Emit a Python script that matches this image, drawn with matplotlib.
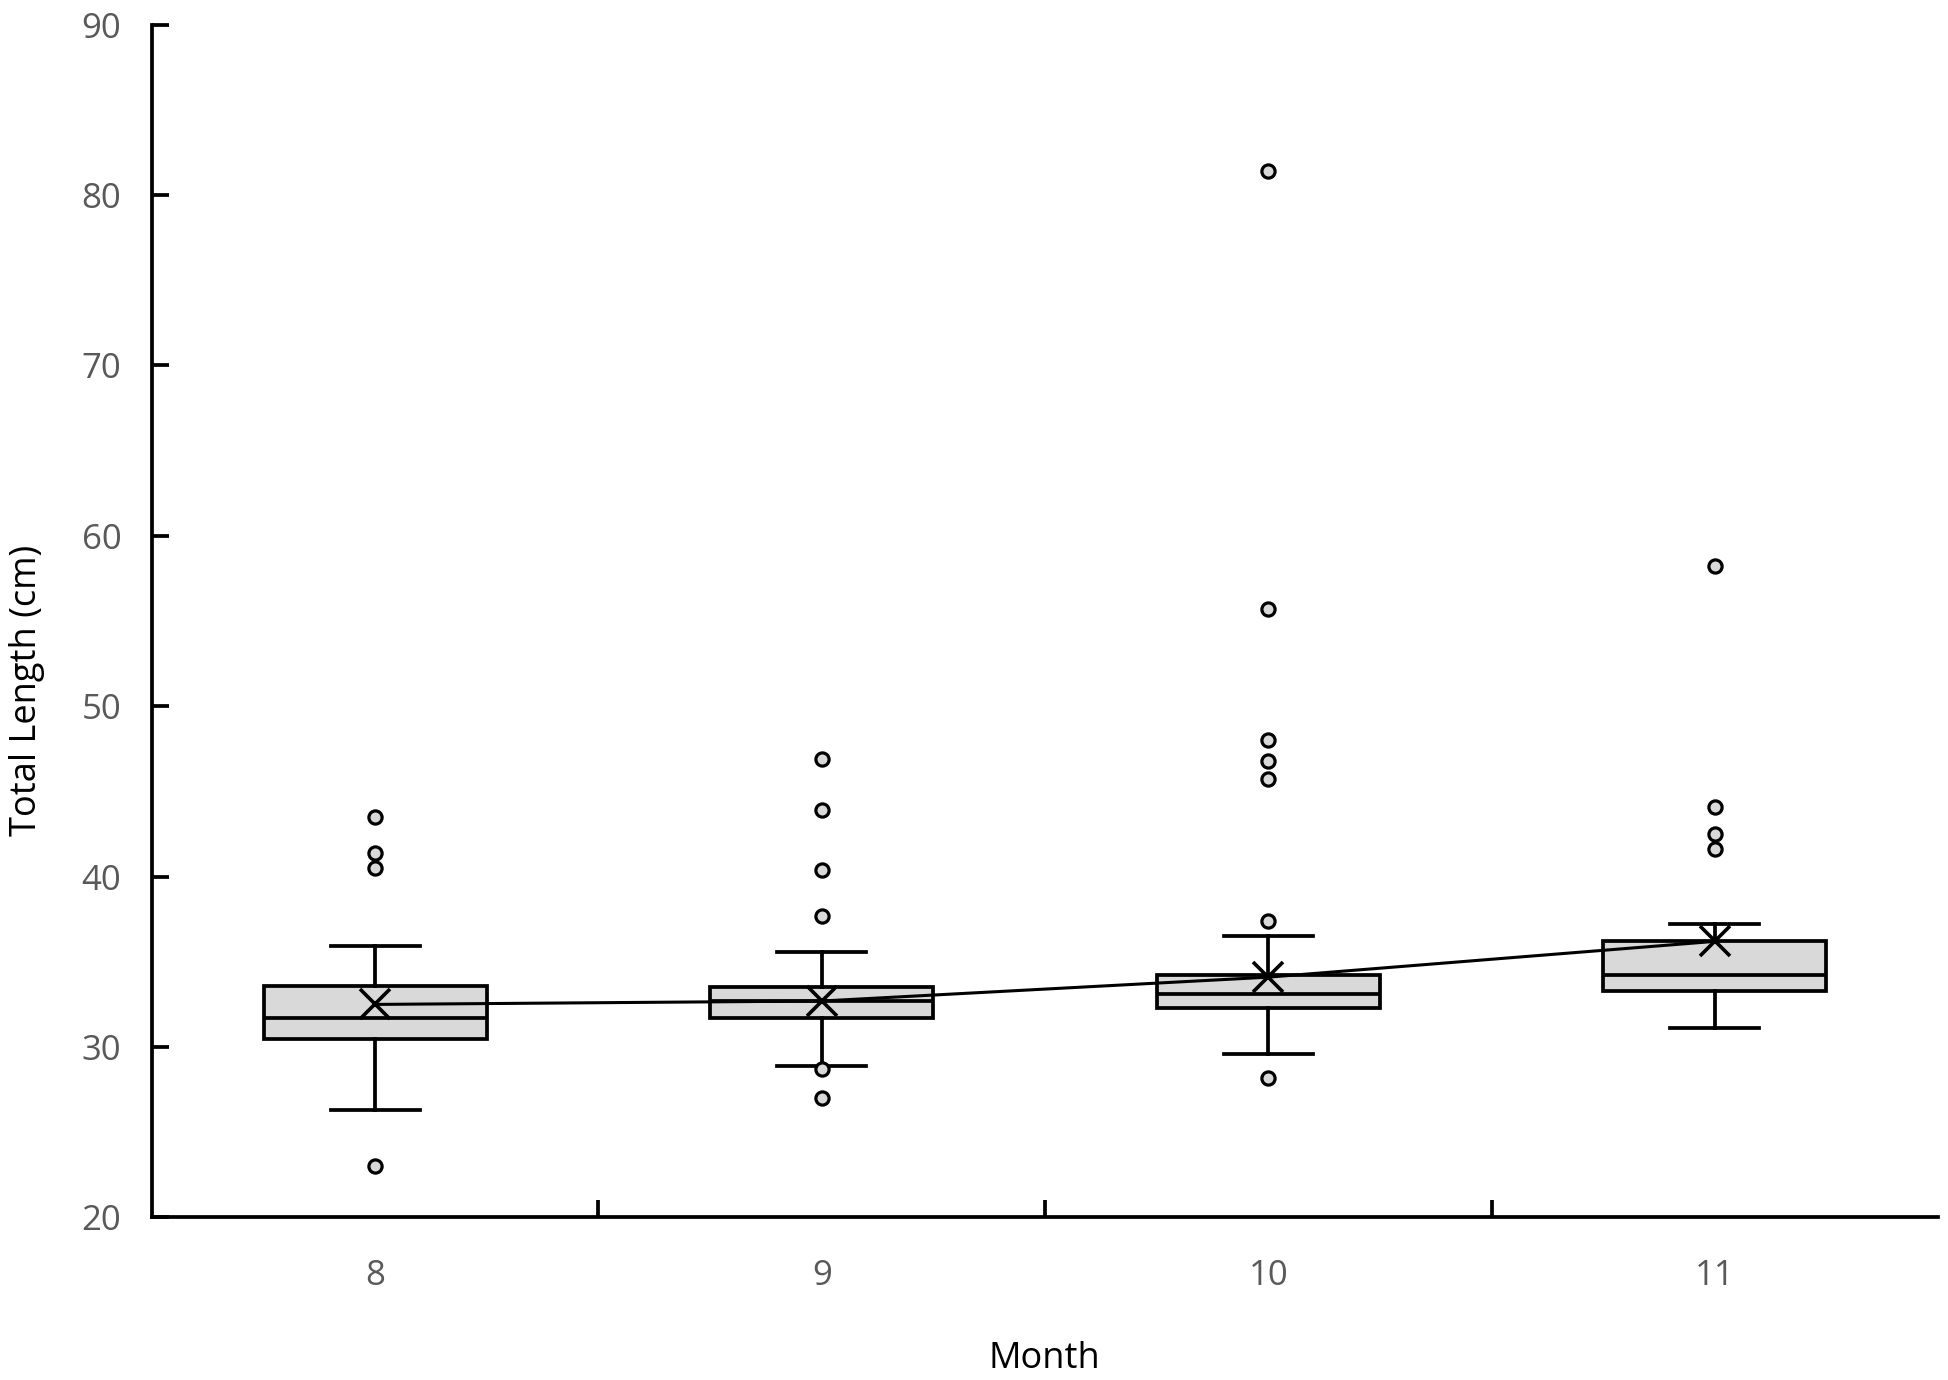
import matplotlib
matplotlib.use("Agg")
import matplotlib.pyplot as plt

plt.rcParams['font.family'] = ['Open Sans', 'DejaVu Sans']

# data
months = ['8', '9', '10', '11']
q1 = [30.5, 31.7, 32.3, 33.3]
median = [31.7, 32.7, 33.1, 34.2]
q3 = [33.6, 33.5, 34.2, 36.2]
whisker_low = [26.3, 28.9, 29.6, 31.1]
whisker_high = [35.9, 35.6, 36.5, 37.2]
means = [32.5, 32.7, 34.1, 36.2]
outliers = [
    [43.5, 41.4, 40.5, 23.0],
    [46.9, 43.9, 40.4, 37.7, 28.7, 27.0],
    [81.4, 55.7, 48.0, 46.8, 45.7, 37.4, 28.2],
    [58.2, 44.1, 42.5, 41.6],
]

stats = []
for i in range(len(months)):
    stats.append({
        'label': months[i],
        'q1': q1[i], 'med': median[i], 'q3': q3[i],
        'whislo': whisker_low[i], 'whishi': whisker_high[i],
        'mean': means[i], 'fliers': outliers[i],
    })

fig = plt.figure(figsize=(19.48, 13.8), dpi=100)
ax = fig.add_axes([0.078, 0.1178, 0.9169, 0.8644])

pos = list(range(1, len(months) + 1))
lw = 2.7
ax.bxp(stats, positions=pos, widths=0.5, patch_artist=True, showmeans=False,
       boxprops=dict(facecolor='#d9d9d9', edgecolor='black', linewidth=lw),
       medianprops=dict(color='black', linewidth=lw),
       whiskerprops=dict(color='black', linewidth=lw),
       capprops=dict(color='black', linewidth=lw),
       capwidths=0.2,
       flierprops=dict(marker='o', markerfacecolor='#d9d9d9', markeredgecolor='black',
                       markersize=9.5, markeredgewidth=2.3))

# mean line with X markers
ax.plot(pos, means, color='black', linewidth=2.2, zorder=4)
ax.plot(pos, means, linestyle='none', marker='x', color='black',
        markersize=21, markeredgewidth=2.6, zorder=5)

ax.set_xlim(0.5, 4.5)
ax.set_ylim(20, 90)
ax.set_yticks(range(20, 91, 10))

ax.set_xticks([1.5, 2.5, 3.5])
ax.set_xticklabels([])
ax.set_xticks(pos, minor=True)
ax.set_xticklabels(months, minor=True)
ax.tick_params(axis='x', which='major', direction='in', length=12, width=lw)
ax.tick_params(axis='x', which='minor', length=0, pad=30, labelsize=25, labelcolor='#595959')
ax.tick_params(axis='y', direction='in', length=12, width=lw, pad=22,
               labelsize=25, labelcolor='#595959')

for s in ['top', 'right']:
    ax.spines[s].set_visible(False)
for s in ['left', 'bottom']:
    ax.spines[s].set_linewidth(lw)

fig.text(0.0139, 0.5, 'Total Length (cm)', rotation=90, ha='center', va='center', fontsize=26)
fig.text(0.536, 0.0155, 'Month', ha='center', va='center', fontsize=26)

fig.savefig('out.png', dpi=100)
